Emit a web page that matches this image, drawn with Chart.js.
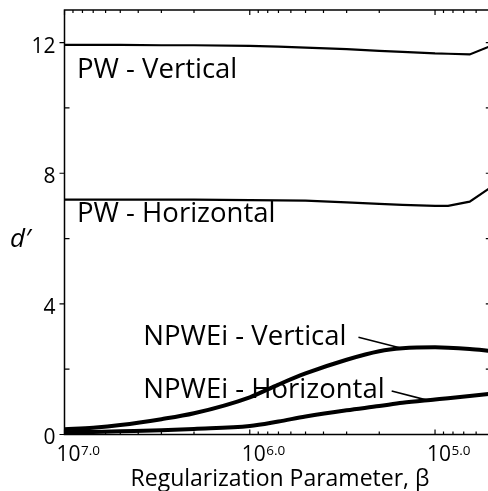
<!DOCTYPE html>
<html><head><meta charset="utf-8">
<script src="https://cdn.jsdelivr.net/npm/chart.js@4.4.0/dist/chart.umd.min.js"></script>
<style>html,body{margin:0;padding:0;background:#fff;overflow:hidden;width:488px;height:491px}canvas{display:block}</style>
</head><body>
<canvas id="c" width="500" height="491"></canvas>
<script>
// ---- data ----
const betaValues      = [1e7, 7e6, 5e6, 3e6, 2e6, 1e6, 7e5, 5e5, 3e5, 2e5, 1.5e5, 1e5, 8.5e4, 6.5e4, 5e4];
const pwVertical      = [11.93, 11.93, 11.93, 11.92, 11.92, 11.90, 11.88, 11.85, 11.80, 11.75, 11.72, 11.67, 11.66, 11.64, 11.90];
const pwHorizontal    = [7.19, 7.19, 7.19, 7.19, 7.19, 7.18, 7.17, 7.16, 7.11, 7.06, 7.03, 7.00, 7.00, 7.13, 7.57];
const npweiVertical   = [0.16, 0.21, 0.29, 0.47, 0.65, 1.14, 1.53, 1.87, 2.29, 2.55, 2.64, 2.67, 2.66, 2.62, 2.56];
const npweiHorizontal = [0.07, 0.08, 0.10, 0.13, 0.17, 0.26, 0.40, 0.55, 0.74, 0.87, 0.97, 1.07, 1.11, 1.18, 1.25];
const seriesNames     = ['PW - Vertical', 'PW - Horizontal', 'NPWEi - Vertical', 'NPWEi - Horizontal'];
const yTickValues     = [0, 4, 8, 12];
const yMinorValues    = [2, 6, 10];
const xMajorExponents = [7, 6, 5];
const xTickLabels     = ['7.0', '6.0', '5.0'];
const xTitle = 'Regularization Parameter, \u03b2';
const yTitle = 'd\u2032';

const FONT = '"Open Sans", Lato, sans-serif';

// text annotation anchors (data coordinates) and leader lines
const annotations = {
  labels: [
    {text: seriesNames[0], beta: 10 ** 6.9325, v: 10.92},
    {text: seriesNames[1], beta: 10 ** 6.9325, v: 6.51},
    {text: seriesNames[2], beta: 10 ** 6.5747, v: 2.74},
    {text: seriesNames[3], beta: 10 ** 6.5747, v: 1.12}
  ],
  leaders: [
    {from: [2.59e5, 2.98], to: [1.514e5, 2.64]},
    {from: [1.714e5, 1.33], to: [1.066e5, 1.03]}
  ]
};

function pts(vals) { return betaValues.map((b, i) => ({x: b, y: vals[i]})); }

const axesPlugin = {
  id: 'matlabAxes',
  afterDraw(chart) {
    const {ctx, chartArea: a, scales: {x, y}} = chart;
    ctx.save();
    ctx.strokeStyle = '#000';
    ctx.fillStyle = '#000';
    ctx.lineWidth = 1.5;
    ctx.strokeRect(a.left, a.top, a.right - a.left, a.bottom - a.top);
    ctx.lineWidth = 1.2;
    ctx.beginPath();
    // x ticks (inward, top and bottom)
    const xMin = x.min, xMax = x.max;
    for (let d = 4; d <= 7; d++) {
      for (let m = 1; m <= 9; m++) {
        const v = m * 10 ** d;
        if (v < xMin - 1e-9 || v > xMax + 1e-9) continue;
        const px = x.getPixelForValue(v);
        const len = m === 1 ? 5 : 3;
        ctx.moveTo(px, a.top); ctx.lineTo(px, a.top + len);
        ctx.moveTo(px, a.bottom); ctx.lineTo(px, a.bottom - len);
      }
    }
    // y ticks
    yTickValues.forEach(v => {
      const py = y.getPixelForValue(v);
      ctx.moveTo(a.left - 5, py); ctx.lineTo(a.left, py);
      ctx.moveTo(a.right, py); ctx.lineTo(a.right - 5, py);
    });
    yMinorValues.forEach(v => {
      const py = y.getPixelForValue(v);
      ctx.moveTo(a.left, py); ctx.lineTo(a.left + 5, py);
      ctx.moveTo(a.right, py); ctx.lineTo(a.right - 5, py);
    });
    ctx.stroke();

    // y tick labels
    ctx.font = '21px ' + FONT;
    ctx.textAlign = 'right';
    ctx.textBaseline = 'middle';
    yTickValues.forEach(v => {
      ctx.fillText(String(v), a.left - 9, y.getPixelForValue(v) + 4);
    });

    // x tick labels 10^{e}
    ctx.textAlign = 'left';
    ctx.textBaseline = 'alphabetic';
    xMajorExponents.forEach((e, i) => {
      const px = x.getPixelForValue(10 ** e);
      ctx.font = '21px ' + FONT;
      const base = '10';
      ctx.fillText(base, px - 8, a.bottom + 26);
      const w = ctx.measureText(base).width;
      ctx.font = '13.5px ' + FONT;
      ctx.fillText(xTickLabels[i], px - 8 + w + 0.5, a.bottom + 20);
    });

    // axis titles
    ctx.font = '23px ' + FONT;
    ctx.textAlign = 'center';
    ctx.fillText(xTitle, 280, a.bottom + 51);
    ctx.font = 'italic 26px ' + FONT;
    ctx.textAlign = 'left';
    ctx.fillText(yTitle, 10, 247);

    // in-plot labels
    ctx.font = '27.5px ' + FONT;
    ctx.textAlign = 'left';
    annotations.labels.forEach(l => {
      ctx.fillText(l.text, x.getPixelForValue(l.beta), y.getPixelForValue(l.v));
    });
    // leader lines
    ctx.lineWidth = 1.6;
    ctx.beginPath();
    annotations.leaders.forEach(l => {
      ctx.moveTo(x.getPixelForValue(l.from[0]), y.getPixelForValue(l.from[1]));
      ctx.lineTo(x.getPixelForValue(l.to[0]), y.getPixelForValue(l.to[1]));
    });
    ctx.stroke();
    ctx.restore();
  }
};

function build() {
  const W = 500, H = 491;
  new Chart(document.getElementById('c'), {
    type: 'line',
    data: {
      datasets: [
        {label: seriesNames[0], data: pts(pwVertical), borderWidth: 2.2, tension: 0},
        {label: seriesNames[1], data: pts(pwHorizontal), borderWidth: 2.2, tension: 0},
        {label: seriesNames[2], data: pts(npweiVertical), borderWidth: 4, cubicInterpolationMode: 'monotone'},
        {label: seriesNames[3], data: pts(npweiHorizontal), borderWidth: 4, cubicInterpolationMode: 'monotone'}
      ].map(d => Object.assign({borderColor: '#000', pointRadius: 0, fill: false}, d))
    },
    options: {
      responsive: false,
      animation: false,
      events: [],
      layout: {padding: {left: 64.5, top: 10, right: W - 490.8, bottom: H - 434.5}},
      plugins: {legend: {display: false}, tooltip: {enabled: false}},
      scales: {
        x: {type: 'logarithmic', reverse: true, min: 5e4, max: 1e7, display: false},
        y: {type: 'linear', min: 0, max: 13, display: false}
      }
    },
    plugins: [axesPlugin]
  });
}
(document.fonts && document.fonts.load ? Promise.all([
  document.fonts.load('20px "Open Sans"'), document.fonts.load('italic 26px "Open Sans"')
]).catch(() => {}) : Promise.resolve()).then(build);
</script>
</body></html>
